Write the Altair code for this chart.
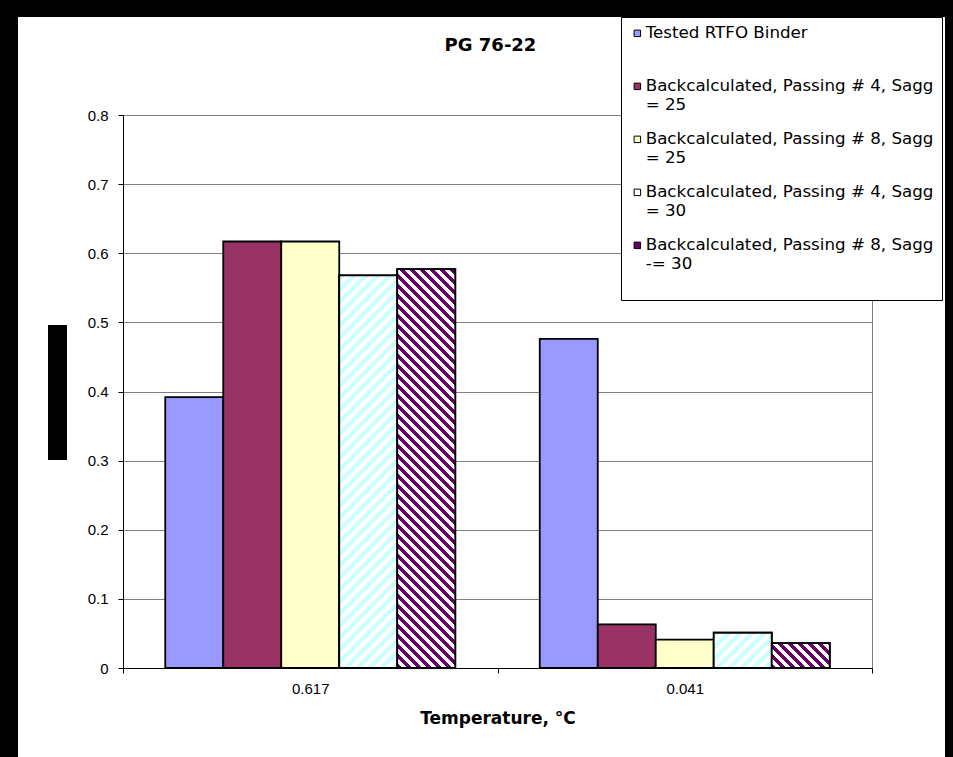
import altair as alt

# ---- chart values -------------------------------------------------------
temps = ["0.617", "0.041"]
series = [
    "Tested RTFO Binder",
    "Backcalculated, Passing # 4, Sagg = 25",
    "Backcalculated, Passing # 8, Sagg = 25",
    "Backcalculated, Passing # 4, Sagg = 30",
    "Backcalculated, Passing # 8, Sagg -= 30",
]
values_0617 = [0.392, 0.617, 0.617, 0.568, 0.577]
values_0041 = [0.476, 0.063, 0.041, 0.051, 0.036]
series_values = [values_0617, values_0041]

# ---- styling --------------------------------------------------------------
fills = ["#9999FF", "#993366", "#FFFFCC", "#FFFFFF", "#660066"]
# hatched series: (stripe colour, period along x in px, stripe share, rising '/')
hatches = {3: ("#CCFFFF", 12.0, 0.5, True), 4: ("#660066", 10.0, 0.5, False)}

PLOT_W, PLOT_H = 749, 553
Y_MAX = 0.8
OFFSET_PAD = 0.7284  # outer padding of the series slots inside each group
FONT = "DejaVu Sans"
TICK_FONT = "Liberation Sans"


def stripe_fill(w, h, color, period, share, rising):
    """Linear gradient with hard stops that draws 45-degree hatching on a w x h box."""
    c = (w + h) / (w * w + h * h)
    if rising:
        x1, y1, x2, y2 = 0.0, 0.0, c * w, c * h
    else:
        x1, y1, x2, y2 = 0.0, 1.0, c * w, 1.0 - c * h
    n = (w + h) / period
    stops = []
    k = 0
    while k < n:
        a = k / n
        b = min((k + share) / n, 1.0)
        e = min((k + 1) / n, 1.0)
        stops += [
            {"offset": a, "color": color},
            {"offset": b, "color": color},
            {"offset": b, "color": "#FFFFFF"},
            {"offset": e, "color": "#FFFFFF"},
        ]
        k += 1
    return {"gradient": "linear", "x1": x1, "y1": y1, "x2": x2, "y2": y2, "stops": stops}


bar_w = (PLOT_W / len(temps)) / (len(series) + 2 * OFFSET_PAD)
records = []
for ti, t in enumerate(temps):
    for si, s in enumerate(series):
        v = series_values[ti][si]
        row = {"temp": t, "series": s, "value": v}
        if si in hatches:
            col, per, share, rising = hatches[si]
            row["pattern"] = stripe_fill(bar_w, v * PLOT_H / Y_MAX, col, per, share, rising)
        records.append(row)

data = alt.Data(values=records)

x_axis = alt.Axis(
    title="Temperature, °C",
    titleFont=FONT, titleFontSize=17, titleFontWeight="bold", titleColor="black",
    titlePadding=14,
    labelFont=TICK_FONT, labelFontSize=15, labelColor="black", labelPadding=8,
    labelAngle=0, tickBand="extent", tickSize=5, tickColor="black",
    domainColor="black", grid=False,
)
x_enc = alt.X("temp:N", sort=temps,
              scale=alt.Scale(domain=temps, paddingInner=0, paddingOuter=0),
              axis=x_axis)
xo_enc = alt.XOffset("series:N", sort=series,
                     scale=alt.Scale(domain=series, paddingInner=0, paddingOuter=OFFSET_PAD))
y_enc = alt.Y("value:Q",
              scale=alt.Scale(domain=[0, Y_MAX], nice=False, zero=True),
              axis=alt.Axis(values=[0, 0.1, 0.2, 0.3, 0.4, 0.5, 0.6, 0.7, 0.8],
                            format=".1~f", title=None,
                            labelFont=TICK_FONT, labelFontSize=15, labelColor="black",
                            labelPadding=10, tickSize=5, tickColor="black",
                            domainColor="black", grid=True,
                            gridColor="#808080", gridWidth=1))

# two text lines per entry: the series name is broken after "Sagg";
# the last entry carries a blank third line, giving the box its bottom margin
legend = alt.Legend(
    orient="none", legendX=498, legendY=-98, title=None,
    labelExpr=("indexof(datum.label, 'Sagg') < 0 ? [datum.label, ''] : "
               "indexof(datum.label, '-=') >= 0 ? "
               "[slice(datum.label, 0, indexof(datum.label, 'Sagg') + 4), "
               "slice(datum.label, indexof(datum.label, 'Sagg') + 5), ''] : "
               "[slice(datum.label, 0, indexof(datum.label, 'Sagg') + 4), "
               "slice(datum.label, indexof(datum.label, 'Sagg') + 5)]"),
    labelFont=FONT, labelFontSize=16.7, labelColor="black", labelLimit=0,
    labelOffset=0, symbolType="square", symbolSize=42,
    symbolStrokeColor="black", symbolStrokeWidth=1,
    padding=8, rowPadding=17,
    strokeColor="black", fillColor="white",
)

bars = alt.Chart(data).mark_bar(stroke="black", strokeWidth=1.8).encode(
    x=x_enc, xOffset=xo_enc, y=y_enc,
    color=alt.Color("series:N", sort=series,
                    scale=alt.Scale(domain=series, range=fills), legend=legend),
)

hatched = alt.Chart(data).transform_filter("isValid(datum.pattern)").mark_bar(
    stroke="black", strokeWidth=1.8
).encode(
    x=x_enc, xOffset=xo_enc, y=y_enc,
    fill=alt.Fill("pattern:N", scale=None),
)

one = alt.Data(values=[{"k": 1}])


def block(x0, x1, y0, y1):
    return alt.Chart(one).mark_rect(color="black").encode(
        x=alt.value(x0), x2=alt.value(x1), y=alt.value(y0), y2=alt.value(y1)
    )


# dark frame around the white page and the solid block left of the value axis
frame_top = block(-123, 830, -115, -98)
frame_left = block(-123, -105, -115, 642)
frame_right = block(822, 830, -115, 642)
y_block = block(-75, -56, 210, 345)

chart = alt.layer(bars, hatched, frame_top, frame_left, frame_right, y_block).properties(
    width=PLOT_W, height=PLOT_H,
    padding={"left": 123, "top": 115, "right": 81, "bottom": 89},
    autosize=alt.AutoSizeParams(type="none"),
    title=alt.TitleParams("PG 76-22", font=FONT, fontSize=18, fontWeight="bold",
                          color="black", anchor="middle", offset=-55, dx=-7),
    background="white",
).configure_view(stroke="#808080", strokeWidth=1)

chart.save("out.html", embed_options={"renderer": "svg", "actions": False})
